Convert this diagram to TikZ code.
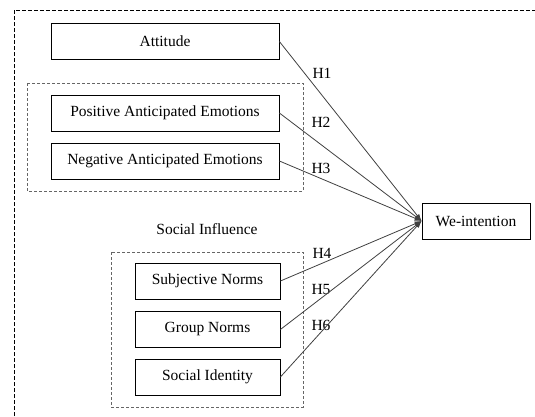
\documentclass[tikz,border=0pt]{standalone}
\usepackage{fontspec}
\setmainfont{Liberation Serif}
\usetikzlibrary{arrows.meta}
\begin{document}
\begin{tikzpicture}[x=1pt,y=-1pt,
  construct/.style={draw=black,line width=0.8pt,minimum height=36pt,inner sep=0pt,font=\fontsize{15.5}{18}\selectfont},
  hyp/.style={draw=black!75,line width=0.8pt,-{Latex[length=7pt,width=5pt]}},
  hlabel/.style={inner sep=0pt,font=\fontsize{15.5}{18}\selectfont},
  grouping/.style={draw=black!60,line width=0.8pt,dash pattern=on 3pt off 2pt}]
\useasboundingbox (0,0) rectangle (535,416);

% outer frame (runs off the page):
\draw[line width=0.8pt,dash pattern=on 4pt off 2pt] (14,416) |- (535,10);

% groups:
\draw[grouping] (27,83) rectangle (303,191);
\draw[grouping] (111,252) rectangle (303,407);
\node[hlabel] (socinf) at (207,229) {Social Influence};

% constructs:
\node[construct,minimum width=228pt] (att) at (165,41.5) {Attitude};
\node[construct,minimum width=228pt] (pae) at (165,113) {Positive Anticipated Emotions};
\node[construct,minimum width=228pt] (nae) at (165,161) {Negative Anticipated Emotions};
\node[construct,minimum width=145pt] (sn) at (207.5,281) {Subjective Norms};
\node[construct,minimum width=145pt] (gn) at (207.5,329.5) {Group Norms};
\node[construct,minimum width=145pt] (sid) at (207.5,377) {Social Identity};
\node[construct,minimum width=108pt] (wei) at (476,221) {We-intention};

% hypotheses:
\node[hlabel] (h1) at (322,73) {H1};
\node[hlabel] (h2) at (321,122) {H2};
\node[hlabel] (h3) at (321,168) {H3};
\node[hlabel] (h4) at (322,253) {H4};
\node[hlabel] (h5) at (321,289) {H5};
\node[hlabel] (h6) at (321,325) {H6};

\draw[hyp] (att.east) -- (wei.west);
\draw[hyp] (pae.east) -- (wei.west);
\draw[hyp] (nae.east) -- (wei.west);
\draw[hyp] (sn.east) -- (wei.west);
\draw[hyp] (gn.east) -- (wei.west);
\draw[hyp] (sid.east) -- (wei.west);

\end{tikzpicture}
\end{document}
